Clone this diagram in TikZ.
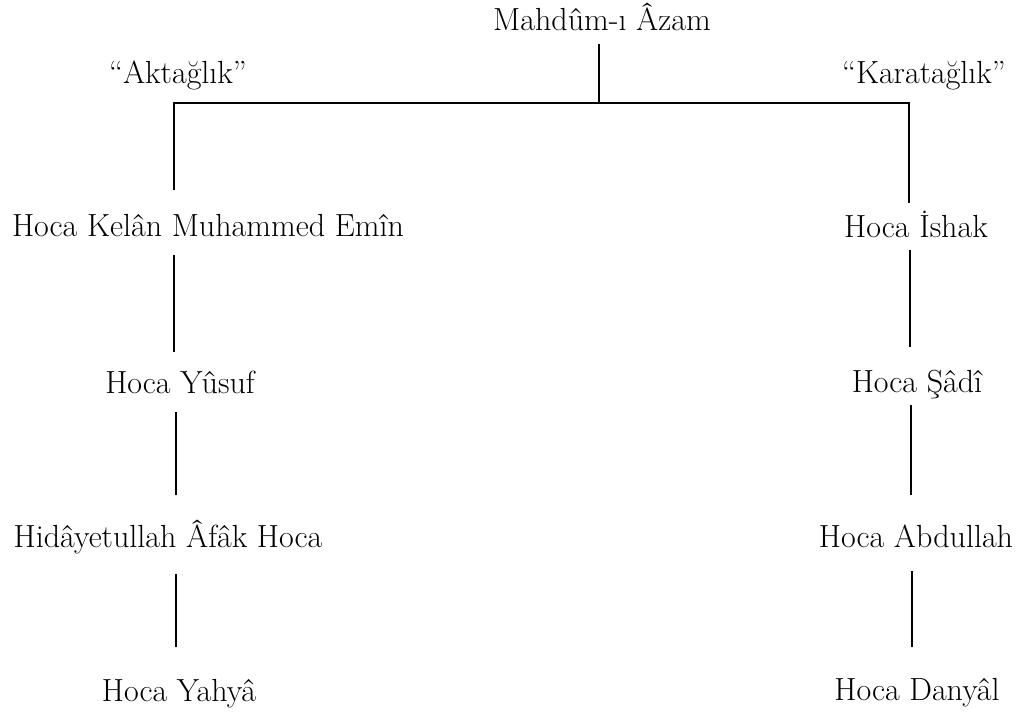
\documentclass[tikz,border=0pt]{standalone}
\usepackage{fontspec}
\begin{document}
\begin{tikzpicture}[x=1pt,y=-1pt,
  lbl/.style={anchor=base,inner sep=0pt,font=\fontsize{32}{38}\selectfont},
  conn/.style={line width=1.5pt}]
\useasboundingbox (0,0) rectangle (1017,715);
\node[lbl] (root) at (602,30) {Mahdûm-ı Âzam};
\node[lbl] (ak) at (178,83) {“Aktağlık”};
\node[lbl] (ka) at (924,83) {“Karatağlık”};
\node[lbl] (kelan) at (208,236) {Hoca Kelân Muhammed Emîn};
\node[lbl] (yusuf) at (180,393) {Hoca Yûsuf};
\node[lbl] (hida) at (168,547) {Hidâyetullah Âfâk Hoca};
\node[lbl] (yahya) at (179,701) {Hoca Yahyâ};
\node[lbl] (ishak) at (916,237) {Hoca İshak};
\node[lbl] (sadi) at (917,392) {Hoca Şâdî};
\node[lbl] (abd) at (916,547) {Hoca Abdullah};
\node[lbl] (dan) at (917,700) {Hoca Danyâl};
\coordinate (r0) at (599,44);
\coordinate (j) at (599,103);
\coordinate (jl) at (174,103);
\coordinate (jr) at (909,103);
\coordinate (jlb) at (174,190);
\coordinate (jrb) at (909,203);
\coordinate (l1a) at (174,255); \coordinate (l1b) at (174,352);
\coordinate (l2a) at (176,412); \coordinate (l2b) at (176,495);
\coordinate (l3a) at (176,574); \coordinate (l3b) at (176,647);
\coordinate (r1a) at (910,250); \coordinate (r1b) at (910,347);
\coordinate (r2a) at (911,405); \coordinate (r2b) at (911,495);
\coordinate (r3a) at (912,571); \coordinate (r3b) at (912,647);
\draw[conn] (r0) -- (j);
\draw[conn] (jlb) -- (jl) -- (jr) -- (jrb);
\draw[conn] (l1a) -- (l1b);
\draw[conn] (l2a) -- (l2b);
\draw[conn] (l3a) -- (l3b);
\draw[conn] (r1a) -- (r1b);
\draw[conn] (r2a) -- (r2b);
\draw[conn] (r3a) -- (r3b);
\end{tikzpicture}
\end{document}
